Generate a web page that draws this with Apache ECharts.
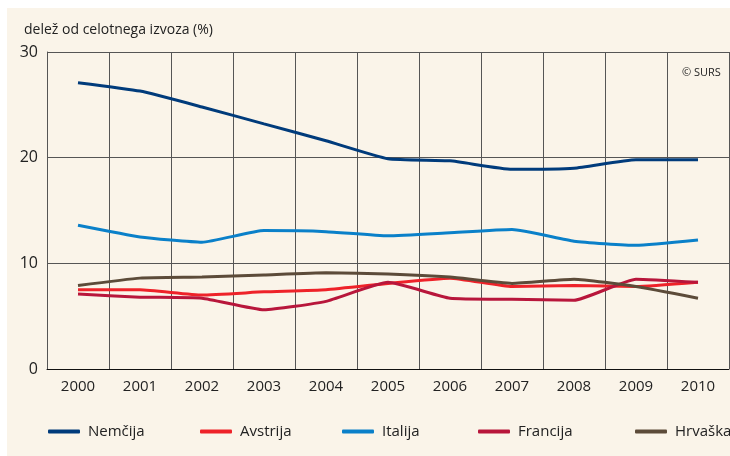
<!DOCTYPE html>
<html>
<head>
<meta charset="utf-8">
<script src="https://cdn.jsdelivr.net/npm/echarts@6/dist/echarts.min.js"></script>
<style>
  body { margin: 0; background: #fff; }
  .wrap { position: relative; width: 730px; height: 456px; }
  .panel { position: absolute; left: 7px; top: 8px; right: 0; bottom: 0; background: #faf4e9; }
  #chart { position: absolute; left: 0; top: 0; width: 730px; height: 456px; }
</style>
</head>
<body>
<div class="wrap">
  <div class="panel"></div>
  <div id="chart"></div>
</div>
<script>
// leta in deleži (%)
const years = ['2000', '2001', '2002', '2003', '2004', '2005', '2006', '2007', '2008', '2009', '2010'];
const nemcija = [27.1, 26.3, 24.8, 23.2, 21.6, 19.9, 19.7, 18.9, 19.0, 19.8, 19.8];
const avstrija = [7.5, 7.5, 7.0, 7.3, 7.5, 8.1, 8.6, 7.8, 7.9, 7.8, 8.2];
const italija = [13.6, 12.5, 12.0, 13.1, 13.0, 12.6, 12.9, 13.2, 12.1, 11.7, 12.2];
const francija = [7.1, 6.8, 6.7, 5.6, 6.4, 8.2, 6.7, 6.6, 6.5, 8.5, 8.2];
const hrvaska = [7.9, 8.6, 8.7, 8.9, 9.1, 9.0, 8.7, 8.1, 8.5, 7.8, 6.7];

const names = ['Nemčija', 'Avstrija', 'Italija', 'Francija', 'Hrvaška'];
const colors = ['#003b7b', '#ee2229', '#0a80c9', '#b8163b', '#5c4b39'];
const values = [nemcija, avstrija, italija, francija, hrvaska];
const legendLeft = [48, 200, 342, 478, 635];

const font = '"Open Sans", "Noto Sans", sans-serif';

const chart = echarts.init(document.getElementById('chart'));
chart.setOption({
  backgroundColor: 'transparent',
  animation: false,
  textStyle: { fontFamily: font },
  title: [
    { text: 'delež od celotnega izvoza (%)', left: 19, top: 18,
      textStyle: { fontSize: 14, fontWeight: 'normal', color: '#222', fontFamily: font } },
    { text: '© SURS', left: 677, top: 62,
      textStyle: { fontSize: 11, fontWeight: 'normal', color: '#222', fontFamily: font } }
  ],
  legend: names.map((n, i) => ({
    data: [n],
    left: legendLeft[i],
    top: 424,
    padding: 0,
    itemWidth: 32,
    itemHeight: 4,
    itemGap: 0,
    icon: 'roundRect',
    textStyle: { fontSize: 15, color: '#222', fontFamily: font, padding: [0, 0, 0, 3] }
  })),
  grid: { left: 47, top: 52, width: 682, height: 317 },
  xAxis: {
    type: 'category',
    data: years,
    boundaryGap: true,
    axisLine: { lineStyle: { color: '#111', width: 1 } },
    axisTick: { show: false },
    axisLabel: { fontSize: 15, color: '#222', margin: 10 },
    splitLine: { show: true, interval: 0, lineStyle: { color: '#555', width: 1 } }
  },
  yAxis: {
    type: 'value',
    min: 0, max: 30, interval: 10,
    axisLine: { show: true, lineStyle: { color: '#555', width: 1 } },
    axisTick: { show: false },
    axisLabel: { fontSize: 16, color: '#222', margin: 9 },
    splitLine: { lineStyle: { color: '#555', width: 1 } }
  },
  series: names.map((n, i) => ({
    name: n,
    type: 'line',
    data: values[i],
    symbol: 'none',
    smooth: 0.15,
    color: colors[i],
    lineStyle: { width: 3, color: colors[i] }
  }))
});
</script>
</body>
</html>
